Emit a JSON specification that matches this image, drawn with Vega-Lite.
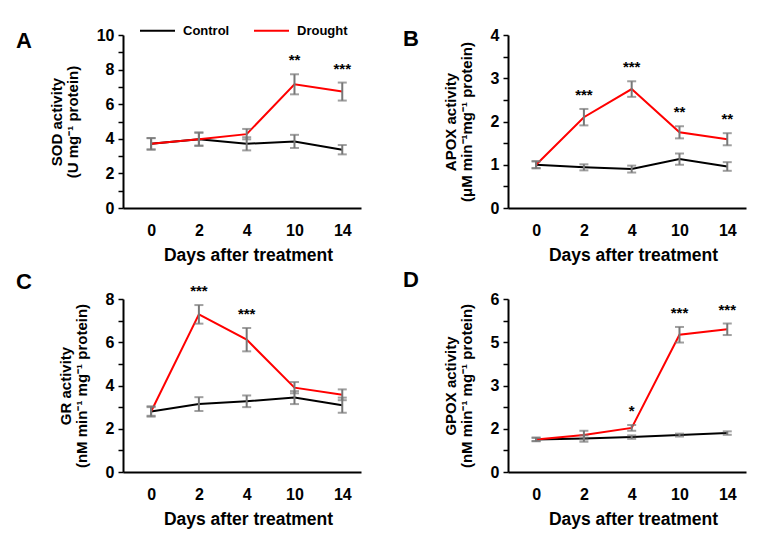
{
  "$schema": "https://vega.github.io/schema/vega-lite/v6.json",
  "background": "white",
  "padding": {"left": 16, "top": 12, "right": 5, "bottom": 5},
  "config": {
    "font": "Liberation Sans",
    "view": {"stroke": null},
    "axis": {"domainColor": "black", "domainWidth": 2, "tickColor": "black", "tickWidth": 1.5, "labelFont": "Liberation Sans", "labelFontWeight": "bold", "labelFontSize": 16, "labelColor": "black", "titleFont": "Liberation Sans", "titleFontWeight": "bold", "titleColor": "black", "grid": false},
    "axisX": {"ticks": false, "labelPadding": 14, "titleFontSize": 17.5, "titlePadding": 8, "labelAngle": 0, "titleX": 125},
    "axisY": {"tickSize": 5, "labelPadding": 4, "titleFontSize": 15, "titleLineHeight": 16, "titlePadding": 16},
    "title": {"fontSize": 22, "fontWeight": "bold", "anchor": "start", "frame": "group", "baseline": "alphabetic", "offset": 0, "color": "black", "font": "Liberation Sans"}
  },
  "datasets": {
    "d": [
      {"panel": "A", "day": "0", "group": "Control", "mean": 3.71, "se": 0.33, "sig": ""},
      {"panel": "A", "day": "2", "group": "Control", "mean": 3.98, "se": 0.38, "sig": ""},
      {"panel": "A", "day": "4", "group": "Control", "mean": 3.71, "se": 0.38, "sig": ""},
      {"panel": "A", "day": "10", "group": "Control", "mean": 3.85, "se": 0.38, "sig": ""},
      {"panel": "A", "day": "14", "group": "Control", "mean": 3.37, "se": 0.27, "sig": ""},
      {"panel": "A", "day": "0", "group": "Drought", "mean": 3.71, "se": 0.33, "sig": ""},
      {"panel": "A", "day": "2", "group": "Drought", "mean": 3.98, "se": 0.38, "sig": ""},
      {"panel": "A", "day": "4", "group": "Drought", "mean": 4.27, "se": 0.3, "sig": ""},
      {"panel": "A", "day": "10", "group": "Drought", "mean": 7.15, "se": 0.58, "sig": "**"},
      {"panel": "A", "day": "14", "group": "Drought", "mean": 6.73, "se": 0.52, "sig": "***"},
      {"panel": "B", "day": "0", "group": "Control", "mean": 1.0, "se": 0.08, "sig": ""},
      {"panel": "B", "day": "2", "group": "Control", "mean": 0.94, "se": 0.07, "sig": ""},
      {"panel": "B", "day": "4", "group": "Control", "mean": 0.9, "se": 0.08, "sig": ""},
      {"panel": "B", "day": "10", "group": "Control", "mean": 1.13, "se": 0.13, "sig": ""},
      {"panel": "B", "day": "14", "group": "Control", "mean": 0.96, "se": 0.1, "sig": ""},
      {"panel": "B", "day": "0", "group": "Drought", "mean": 1.0, "se": 0.08, "sig": ""},
      {"panel": "B", "day": "2", "group": "Drought", "mean": 2.1, "se": 0.19, "sig": "***"},
      {"panel": "B", "day": "4", "group": "Drought", "mean": 2.75, "se": 0.18, "sig": "***"},
      {"panel": "B", "day": "10", "group": "Drought", "mean": 1.75, "se": 0.14, "sig": "**"},
      {"panel": "B", "day": "14", "group": "Drought", "mean": 1.59, "se": 0.14, "sig": "**"},
      {"panel": "C", "day": "0", "group": "Control", "mean": 2.8, "se": 0.24, "sig": ""},
      {"panel": "C", "day": "2", "group": "Control", "mean": 3.14, "se": 0.32, "sig": ""},
      {"panel": "C", "day": "4", "group": "Control", "mean": 3.27, "se": 0.27, "sig": ""},
      {"panel": "C", "day": "10", "group": "Control", "mean": 3.44, "se": 0.3, "sig": ""},
      {"panel": "C", "day": "14", "group": "Control", "mean": 3.09, "se": 0.35, "sig": ""},
      {"panel": "C", "day": "0", "group": "Drought", "mean": 2.8, "se": 0.2, "sig": ""},
      {"panel": "C", "day": "2", "group": "Drought", "mean": 7.29, "se": 0.43, "sig": "***"},
      {"panel": "C", "day": "4", "group": "Drought", "mean": 6.12, "se": 0.54, "sig": "***"},
      {"panel": "C", "day": "10", "group": "Drought", "mean": 3.9, "se": 0.26, "sig": ""},
      {"panel": "C", "day": "14", "group": "Drought", "mean": 3.57, "se": 0.25, "sig": ""},
      {"panel": "D", "day": "0", "group": "Control", "mean": 1.13, "se": 0.06, "sig": ""},
      {"panel": "D", "day": "2", "group": "Control", "mean": 1.16, "se": 0.11, "sig": ""},
      {"panel": "D", "day": "4", "group": "Control", "mean": 1.21, "se": 0.06, "sig": ""},
      {"panel": "D", "day": "10", "group": "Control", "mean": 1.28, "se": 0.05, "sig": ""},
      {"panel": "D", "day": "14", "group": "Control", "mean": 1.35, "se": 0.06, "sig": ""},
      {"panel": "D", "day": "0", "group": "Drought", "mean": 1.13, "se": 0.06, "sig": ""},
      {"panel": "D", "day": "2", "group": "Drought", "mean": 1.28, "se": 0.15, "sig": ""},
      {"panel": "D", "day": "4", "group": "Drought", "mean": 1.53, "se": 0.1, "sig": "*"},
      {"panel": "D", "day": "10", "group": "Drought", "mean": 4.76, "se": 0.27, "sig": "***"},
      {"panel": "D", "day": "14", "group": "Drought", "mean": 4.95, "se": 0.2, "sig": "***"}
    ]
  },
  "columns": 2,
  "spacing": {"column": 42, "row": 5},
  "resolve": {"scale": {"color": "independent"}, "legend": {"color": "independent"}},
  "concat": [
    {
      "width": 238, "height": 173,
      "title": {"text": "A", "dx": -107, "dy": 45},
      "data": {"name": "d"},
      "transform": [{"filter": "datum.panel == 'A'"}],
      "encoding": {
        "x": {"field": "day", "type": "ordinal", "sort": ["0", "2", "4", "10", "14"], "scale": {"type": "point", "padding": 0.49, "align": 0.6}, "axis": {"title": "Days after treatment"}},
        "y": {"field": "mean", "type": "quantitative", "scale": {"domain": [0, 10], "nice": false}, "axis": {"title": ["SOD activity", "(U mg⁻¹ protein)"], "values": [0, 1, 2, 3, 4, 5, 6, 7, 8, 9, 10], "format": "d", "labelExpr": "datum.value % 2 == 0 ? datum.label : ''"}}
      },
      "layer": [
        {"mark": {"type": "line", "strokeWidth": 2}, "encoding": {"color": {"field": "group", "type": "nominal", "scale": {"domain": ["Control", "Drought"], "range": ["black", "#ff0000"]}, "legend": {"orient": "none", "legendX": 16, "legendY": -23, "direction": "horizontal", "title": null, "padding": 0, "symbolType": "stroke", "symbolSize": 1225, "symbolStrokeWidth": 2, "labelFontSize": 13, "labelFontWeight": "bold", "labelColor": "black", "labelFont": "Liberation Sans", "columnPadding": 20, "labelOffset": 7}}}},
        {"mark": {"type": "errorbar", "ticks": {"size": 9}, "color": "#777777", "thickness": 2}, "encoding": {"yError": {"field": "se"}}},
        {"transform": [{"filter": "datum.sig"}, {"calculate": "datum.mean + datum.se", "as": "mean"}], "mark": {"type": "text", "fontSize": 15, "fontWeight": "bold", "dy": -14, "baseline": "middle", "color": "black"}, "encoding": {"text": {"field": "sig"}}}
      ]
    },
    {
      "width": 238, "height": 173,
      "title": {"text": "B", "dx": -105, "dy": 28},
      "data": {"name": "d"},
      "transform": [{"filter": "datum.panel == 'B'"}],
      "encoding": {
        "x": {"field": "day", "type": "ordinal", "sort": ["0", "2", "4", "10", "14"], "scale": {"type": "point", "padding": 0.49, "align": 0.6}, "axis": {"title": "Days after treatment"}},
        "y": {"field": "mean", "type": "quantitative", "scale": {"domain": [0, 4], "nice": false}, "axis": {"title": ["APOX activity", "(μM min⁻¹mg⁻¹ protein)"], "values": [0, 0.5, 1, 1.5, 2, 2.5, 3, 3.5, 4], "format": ".0f", "labelExpr": "datum.value % 1 == 0 ? datum.label : ''"}}
      },
      "layer": [
        {"mark": {"type": "line", "strokeWidth": 2}, "encoding": {"color": {"field": "group", "type": "nominal", "scale": {"domain": ["Control", "Drought"], "range": ["black", "#ff0000"]}, "legend": null}}},
        {"mark": {"type": "errorbar", "ticks": {"size": 9}, "color": "#777777", "thickness": 2}, "encoding": {"yError": {"field": "se"}}},
        {"transform": [{"filter": "datum.sig"}, {"calculate": "datum.mean + datum.se", "as": "mean"}], "mark": {"type": "text", "fontSize": 15, "fontWeight": "bold", "dy": -14, "baseline": "middle", "color": "black"}, "encoding": {"text": {"field": "sig"}}}
      ]
    },
    {
      "width": 238, "height": 173,
      "title": {"text": "C", "dx": -107, "dy": 14},
      "data": {"name": "d"},
      "transform": [{"filter": "datum.panel == 'C'"}],
      "encoding": {
        "x": {"field": "day", "type": "ordinal", "sort": ["0", "2", "4", "10", "14"], "scale": {"type": "point", "padding": 0.49, "align": 0.6}, "axis": {"title": "Days after treatment"}},
        "y": {"field": "mean", "type": "quantitative", "scale": {"domain": [0, 8], "nice": false}, "axis": {"title": ["GR activity", "(nM min⁻¹ mg⁻¹ protein)"], "values": [0, 1, 2, 3, 4, 5, 6, 7, 8], "format": "d", "labelExpr": "datum.value % 2 == 0 ? datum.label : ''"}}
      },
      "layer": [
        {"mark": {"type": "line", "strokeWidth": 2}, "encoding": {"color": {"field": "group", "type": "nominal", "scale": {"domain": ["Control", "Drought"], "range": ["black", "#ff0000"]}, "legend": null}}},
        {"mark": {"type": "errorbar", "ticks": {"size": 9}, "color": "#777777", "thickness": 2}, "encoding": {"yError": {"field": "se"}}},
        {"transform": [{"filter": "datum.sig"}, {"calculate": "datum.mean + datum.se", "as": "mean"}], "mark": {"type": "text", "fontSize": 15, "fontWeight": "bold", "dy": -14, "baseline": "middle", "color": "black"}, "encoding": {"text": {"field": "sig"}}}
      ]
    },
    {
      "width": 238, "height": 173,
      "title": {"text": "D", "dx": -105, "dy": 5},
      "data": {"name": "d"},
      "transform": [{"filter": "datum.panel == 'D'"}],
      "encoding": {
        "x": {"field": "day", "type": "ordinal", "sort": ["0", "2", "4", "10", "14"], "scale": {"type": "point", "padding": 0.49, "align": 0.6}, "axis": {"title": "Days after treatment"}},
        "y": {"field": "mean", "type": "quantitative", "scale": {"domain": [0, 6], "nice": false}, "axis": {"title": ["GPOX activity", "(nM min⁻¹ mg⁻¹ protein)"], "values": [0, 0.75, 1.5, 2.25, 3, 3.75, 4.5, 5.25, 6], "format": ".0f", "labelExpr": "datum.value % 1.5 == 0 ? datum.label : ''"}}
      },
      "layer": [
        {"mark": {"type": "line", "strokeWidth": 2}, "encoding": {"color": {"field": "group", "type": "nominal", "scale": {"domain": ["Control", "Drought"], "range": ["black", "#ff0000"]}, "legend": null}}},
        {"mark": {"type": "errorbar", "ticks": {"size": 9}, "color": "#777777", "thickness": 2}, "encoding": {"yError": {"field": "se"}}},
        {"transform": [{"filter": "datum.sig"}, {"calculate": "datum.mean + datum.se", "as": "mean"}], "mark": {"type": "text", "fontSize": 15, "fontWeight": "bold", "dy": -14, "baseline": "middle", "color": "black"}, "encoding": {"text": {"field": "sig"}}}
      ]
    }
  ]
}
